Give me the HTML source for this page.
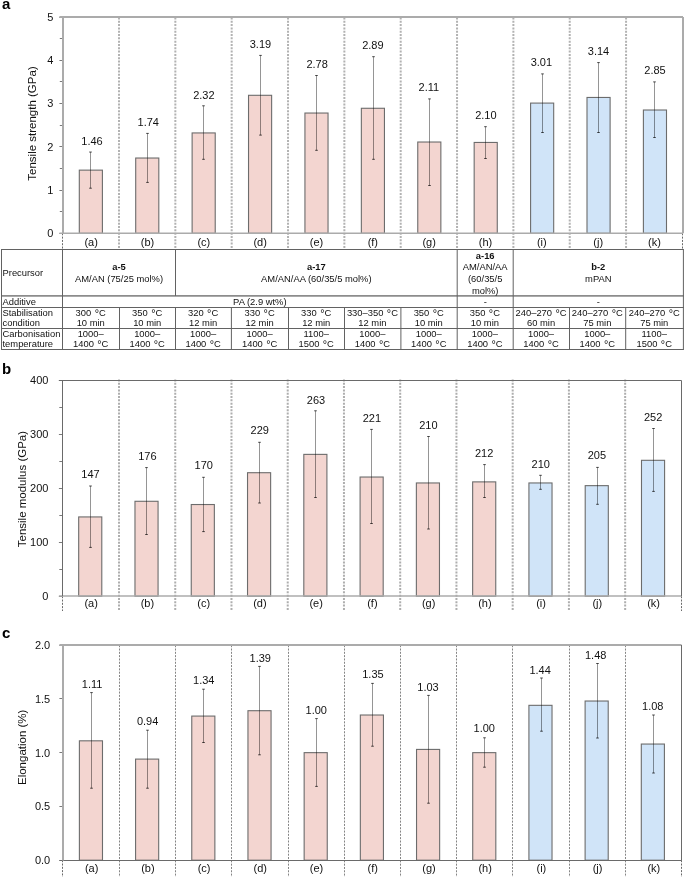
<!DOCTYPE html><html><head><meta charset="utf-8"><style>html,body{margin:0;padding:0;background:#fff;}svg{display:block;will-change:transform}</style></head><body>
<svg width="685" height="879" viewBox="0 0 685 879" font-family='"Liberation Sans", sans-serif'>
<rect x="0" y="0" width="685" height="879" fill="#fff"/>
<text x="1.9" y="9.1" font-size="15" font-weight="bold" fill="#000">a</text>
<line x1="119.00" y1="17.50" x2="119.00" y2="249.3" stroke="#B2B2B2" stroke-width="2.0" stroke-dasharray="2 1.31"/>
<line x1="175.34" y1="17.50" x2="175.34" y2="249.3" stroke="#B2B2B2" stroke-width="2.0" stroke-dasharray="2 1.31"/>
<line x1="231.68" y1="17.50" x2="231.68" y2="249.3" stroke="#B2B2B2" stroke-width="2.0" stroke-dasharray="2 1.31"/>
<line x1="288.02" y1="17.50" x2="288.02" y2="249.3" stroke="#B2B2B2" stroke-width="2.0" stroke-dasharray="2 1.31"/>
<line x1="344.36" y1="17.50" x2="344.36" y2="249.3" stroke="#B2B2B2" stroke-width="2.0" stroke-dasharray="2 1.31"/>
<line x1="400.70" y1="17.50" x2="400.70" y2="249.3" stroke="#B2B2B2" stroke-width="2.0" stroke-dasharray="2 1.31"/>
<line x1="457.04" y1="17.50" x2="457.04" y2="249.3" stroke="#B2B2B2" stroke-width="2.0" stroke-dasharray="2 1.31"/>
<line x1="513.38" y1="17.50" x2="513.38" y2="249.3" stroke="#B2B2B2" stroke-width="2.0" stroke-dasharray="2 1.31"/>
<line x1="569.72" y1="17.50" x2="569.72" y2="249.3" stroke="#B2B2B2" stroke-width="2.0" stroke-dasharray="2 1.31"/>
<line x1="626.06" y1="17.50" x2="626.06" y2="249.3" stroke="#B2B2B2" stroke-width="2.0" stroke-dasharray="2 1.31"/>
<line x1="62.50" y1="233.30" x2="62.50" y2="249.3" stroke="#6A6A6A" stroke-width="1" stroke-dasharray="2 1.31"/>
<line x1="682.50" y1="233.30" x2="682.50" y2="249.3" stroke="#6A6A6A" stroke-width="1" stroke-dasharray="2 1.31"/>
<rect x="79.30" y="170.14" width="23.1" height="63.16" fill="#F3D5D0" stroke="#6C6C6C" stroke-width="1.1"/>
<rect x="135.71" y="158.03" width="23.1" height="75.27" fill="#F3D5D0" stroke="#6C6C6C" stroke-width="1.1"/>
<rect x="192.12" y="132.94" width="23.1" height="100.36" fill="#F3D5D0" stroke="#6C6C6C" stroke-width="1.1"/>
<rect x="248.53" y="95.30" width="23.1" height="138.00" fill="#F3D5D0" stroke="#6C6C6C" stroke-width="1.1"/>
<rect x="304.94" y="113.04" width="23.1" height="120.26" fill="#F3D5D0" stroke="#6C6C6C" stroke-width="1.1"/>
<rect x="361.35" y="108.28" width="23.1" height="125.02" fill="#F3D5D0" stroke="#6C6C6C" stroke-width="1.1"/>
<rect x="417.76" y="142.02" width="23.1" height="91.28" fill="#F3D5D0" stroke="#6C6C6C" stroke-width="1.1"/>
<rect x="474.17" y="142.45" width="23.1" height="90.85" fill="#F3D5D0" stroke="#6C6C6C" stroke-width="1.1"/>
<rect x="530.59" y="103.09" width="23.1" height="130.21" fill="#D0E4F8" stroke="#6C6C6C" stroke-width="1.1"/>
<rect x="587.00" y="97.46" width="23.1" height="135.84" fill="#D0E4F8" stroke="#6C6C6C" stroke-width="1.1"/>
<rect x="643.40" y="110.01" width="23.1" height="123.29" fill="#D0E4F8" stroke="#6C6C6C" stroke-width="1.1"/>
<line x1="90.50" y1="152.05" x2="90.50" y2="188.2" stroke="#000" stroke-width="0.42"/>
<line x1="89.20" y1="152.05" x2="91.80" y2="152.05" stroke="#000" stroke-width="0.7"/>
<line x1="89.20" y1="188.2" x2="91.80" y2="188.2" stroke="#000" stroke-width="0.7"/>
<text x="92.05" y="144.60" font-size="11" text-anchor="middle" fill="#111">1.46</text>
<line x1="147.50" y1="133.4" x2="147.50" y2="182.4" stroke="#000" stroke-width="0.42"/>
<line x1="146.20" y1="133.4" x2="148.80" y2="133.4" stroke="#000" stroke-width="0.7"/>
<line x1="146.20" y1="182.4" x2="148.80" y2="182.4" stroke="#000" stroke-width="0.7"/>
<text x="148.25" y="126.20" font-size="11" text-anchor="middle" fill="#111">1.74</text>
<line x1="203.50" y1="105.8" x2="203.50" y2="159.3" stroke="#000" stroke-width="0.42"/>
<line x1="202.20" y1="105.8" x2="204.80" y2="105.8" stroke="#000" stroke-width="0.7"/>
<line x1="202.20" y1="159.3" x2="204.80" y2="159.3" stroke="#000" stroke-width="0.7"/>
<text x="203.85" y="98.80" font-size="11" text-anchor="middle" fill="#111">2.32</text>
<line x1="260.50" y1="55.4" x2="260.50" y2="135.1" stroke="#000" stroke-width="0.42"/>
<line x1="259.20" y1="55.4" x2="261.80" y2="55.4" stroke="#000" stroke-width="0.7"/>
<line x1="259.20" y1="135.1" x2="261.80" y2="135.1" stroke="#000" stroke-width="0.7"/>
<text x="260.45" y="47.90" font-size="11" text-anchor="middle" fill="#111">3.19</text>
<line x1="316.50" y1="75.5" x2="316.50" y2="150.3" stroke="#000" stroke-width="0.42"/>
<line x1="315.20" y1="75.5" x2="317.80" y2="75.5" stroke="#000" stroke-width="0.7"/>
<line x1="315.20" y1="150.3" x2="317.80" y2="150.3" stroke="#000" stroke-width="0.7"/>
<text x="317.10" y="67.60" font-size="11" text-anchor="middle" fill="#111">2.78</text>
<line x1="373.50" y1="56.7" x2="373.50" y2="159.3" stroke="#000" stroke-width="0.42"/>
<line x1="372.20" y1="56.7" x2="374.80" y2="56.7" stroke="#000" stroke-width="0.7"/>
<line x1="372.20" y1="159.3" x2="374.80" y2="159.3" stroke="#000" stroke-width="0.7"/>
<text x="372.90" y="48.80" font-size="11" text-anchor="middle" fill="#111">2.89</text>
<line x1="429.50" y1="98.9" x2="429.50" y2="185.5" stroke="#000" stroke-width="0.42"/>
<line x1="428.20" y1="98.9" x2="430.80" y2="98.9" stroke="#000" stroke-width="0.7"/>
<line x1="428.20" y1="185.5" x2="430.80" y2="185.5" stroke="#000" stroke-width="0.7"/>
<text x="428.90" y="90.80" font-size="11" text-anchor="middle" fill="#111">2.11</text>
<line x1="485.50" y1="126.7" x2="485.50" y2="158.5" stroke="#000" stroke-width="0.42"/>
<line x1="484.20" y1="126.7" x2="486.80" y2="126.7" stroke="#000" stroke-width="0.7"/>
<line x1="484.20" y1="158.5" x2="486.80" y2="158.5" stroke="#000" stroke-width="0.7"/>
<text x="485.90" y="118.80" font-size="11" text-anchor="middle" fill="#111">2.10</text>
<line x1="542.50" y1="73.9" x2="542.50" y2="132.5" stroke="#000" stroke-width="0.42"/>
<line x1="541.20" y1="73.9" x2="543.80" y2="73.9" stroke="#000" stroke-width="0.7"/>
<line x1="541.20" y1="132.5" x2="543.80" y2="132.5" stroke="#000" stroke-width="0.7"/>
<text x="541.35" y="65.60" font-size="11" text-anchor="middle" fill="#111">3.01</text>
<line x1="598.50" y1="62.6" x2="598.50" y2="132.5" stroke="#000" stroke-width="0.42"/>
<line x1="597.20" y1="62.6" x2="599.80" y2="62.6" stroke="#000" stroke-width="0.7"/>
<line x1="597.20" y1="132.5" x2="599.80" y2="132.5" stroke="#000" stroke-width="0.7"/>
<text x="598.55" y="55.20" font-size="11" text-anchor="middle" fill="#111">3.14</text>
<line x1="654.50" y1="81.9" x2="654.50" y2="137.5" stroke="#000" stroke-width="0.42"/>
<line x1="653.20" y1="81.9" x2="655.80" y2="81.9" stroke="#000" stroke-width="0.7"/>
<line x1="653.20" y1="137.5" x2="655.80" y2="137.5" stroke="#000" stroke-width="0.7"/>
<text x="655.00" y="74.00" font-size="11" text-anchor="middle" fill="#111">2.85</text>
<line x1="59.40" y1="233.50" x2="63.0" y2="233.50" stroke="#7A7A7A" stroke-width="1"/>
<text x="53.4" y="237.25" font-size="11" text-anchor="end" fill="#111">0</text>
<line x1="59.40" y1="190.50" x2="63.0" y2="190.50" stroke="#7A7A7A" stroke-width="1"/>
<text x="53.4" y="193.99" font-size="11" text-anchor="end" fill="#111">1</text>
<line x1="59.40" y1="146.50" x2="63.0" y2="146.50" stroke="#7A7A7A" stroke-width="1"/>
<text x="53.4" y="150.73" font-size="11" text-anchor="end" fill="#111">2</text>
<line x1="59.40" y1="103.50" x2="63.0" y2="103.50" stroke="#7A7A7A" stroke-width="1"/>
<text x="53.4" y="107.47" font-size="11" text-anchor="end" fill="#111">3</text>
<line x1="59.40" y1="60.50" x2="63.0" y2="60.50" stroke="#7A7A7A" stroke-width="1"/>
<text x="53.4" y="64.21" font-size="11" text-anchor="end" fill="#111">4</text>
<line x1="59.40" y1="17.50" x2="63.0" y2="17.50" stroke="#7A7A7A" stroke-width="1"/>
<text x="53.4" y="20.95" font-size="11" text-anchor="end" fill="#111">5</text>
<line x1="59.80" y1="211.50" x2="63.0" y2="211.50" stroke="#7A7A7A" stroke-width="1"/>
<line x1="59.80" y1="168.50" x2="63.0" y2="168.50" stroke="#7A7A7A" stroke-width="1"/>
<line x1="59.80" y1="125.50" x2="63.0" y2="125.50" stroke="#7A7A7A" stroke-width="1"/>
<line x1="59.80" y1="81.50" x2="63.0" y2="81.50" stroke="#7A7A7A" stroke-width="1"/>
<line x1="59.80" y1="38.50" x2="63.0" y2="38.50" stroke="#7A7A7A" stroke-width="1"/>
<line x1="59.40" y1="233.20" x2="683.00" y2="233.20" stroke="#ABABAB" stroke-width="1.5"/>
<line x1="59.40" y1="17.00" x2="683.00" y2="17.00" stroke="#ABABAB" stroke-width="2.0"/>
<line x1="683.00" y1="17.00" x2="683.00" y2="233.20" stroke="#ABABAB" stroke-width="2.0"/>
<line x1="63.00" y1="17.00" x2="63.00" y2="233.20" stroke="#ABABAB" stroke-width="2.0"/>
<text transform="translate(31.8,123.5) rotate(-90)" x="0" y="4.0" font-size="11.5" text-anchor="middle" fill="#111">Tensile strength (GPa)</text>
<text x="91.13" y="245.50" font-size="11" text-anchor="middle" fill="#111">(a)</text>
<text x="147.47" y="245.50" font-size="11" text-anchor="middle" fill="#111">(b)</text>
<text x="203.81" y="245.50" font-size="11" text-anchor="middle" fill="#111">(c)</text>
<text x="260.15" y="245.50" font-size="11" text-anchor="middle" fill="#111">(d)</text>
<text x="316.49" y="245.50" font-size="11" text-anchor="middle" fill="#111">(e)</text>
<text x="372.83" y="245.50" font-size="11" text-anchor="middle" fill="#111">(f)</text>
<text x="429.17" y="245.50" font-size="11" text-anchor="middle" fill="#111">(g)</text>
<text x="485.51" y="245.50" font-size="11" text-anchor="middle" fill="#111">(h)</text>
<text x="541.85" y="245.50" font-size="11" text-anchor="middle" fill="#111">(i)</text>
<text x="598.19" y="245.50" font-size="11" text-anchor="middle" fill="#111">(j)</text>
<text x="654.53" y="245.50" font-size="11" text-anchor="middle" fill="#111">(k)</text>
<text x="1.9" y="373.7" font-size="15" font-weight="bold" fill="#000">b</text>
<line x1="119.00" y1="379.50" x2="119.00" y2="611.0" stroke="#AEAEAE" stroke-width="2.0" stroke-dasharray="2 1.31"/>
<line x1="175.24" y1="379.50" x2="175.24" y2="611.0" stroke="#AEAEAE" stroke-width="2.0" stroke-dasharray="2 1.31"/>
<line x1="231.48" y1="379.50" x2="231.48" y2="611.0" stroke="#AEAEAE" stroke-width="2.0" stroke-dasharray="2 1.31"/>
<line x1="287.72" y1="379.50" x2="287.72" y2="611.0" stroke="#AEAEAE" stroke-width="2.0" stroke-dasharray="2 1.31"/>
<line x1="343.96" y1="379.50" x2="343.96" y2="611.0" stroke="#AEAEAE" stroke-width="2.0" stroke-dasharray="2 1.31"/>
<line x1="400.20" y1="379.50" x2="400.20" y2="611.0" stroke="#AEAEAE" stroke-width="2.0" stroke-dasharray="2 1.31"/>
<line x1="456.44" y1="379.50" x2="456.44" y2="611.0" stroke="#AEAEAE" stroke-width="2.0" stroke-dasharray="2 1.31"/>
<line x1="512.68" y1="379.50" x2="512.68" y2="611.0" stroke="#AEAEAE" stroke-width="2.0" stroke-dasharray="2 1.31"/>
<line x1="568.92" y1="379.50" x2="568.92" y2="611.0" stroke="#AEAEAE" stroke-width="2.0" stroke-dasharray="2 1.31"/>
<line x1="625.16" y1="379.50" x2="625.16" y2="611.0" stroke="#AEAEAE" stroke-width="2.0" stroke-dasharray="2 1.31"/>
<line x1="62.50" y1="596.20" x2="62.50" y2="611.0" stroke="#6A6A6A" stroke-width="1" stroke-dasharray="2 1.31"/>
<line x1="681.50" y1="596.20" x2="681.50" y2="611.0" stroke="#6A6A6A" stroke-width="1" stroke-dasharray="2 1.31"/>
<rect x="78.69" y="516.93" width="23.1" height="79.27" fill="#F3D5D0" stroke="#6C6C6C" stroke-width="1.1"/>
<rect x="134.97" y="501.29" width="23.1" height="94.91" fill="#F3D5D0" stroke="#6C6C6C" stroke-width="1.1"/>
<rect x="191.25" y="504.53" width="23.1" height="91.67" fill="#F3D5D0" stroke="#6C6C6C" stroke-width="1.1"/>
<rect x="247.53" y="472.71" width="23.1" height="123.49" fill="#F3D5D0" stroke="#6C6C6C" stroke-width="1.1"/>
<rect x="303.81" y="454.38" width="23.1" height="141.82" fill="#F3D5D0" stroke="#6C6C6C" stroke-width="1.1"/>
<rect x="360.09" y="477.03" width="23.1" height="119.17" fill="#F3D5D0" stroke="#6C6C6C" stroke-width="1.1"/>
<rect x="416.37" y="482.96" width="23.1" height="113.24" fill="#F3D5D0" stroke="#6C6C6C" stroke-width="1.1"/>
<rect x="472.65" y="481.88" width="23.1" height="114.32" fill="#F3D5D0" stroke="#6C6C6C" stroke-width="1.1"/>
<rect x="528.93" y="482.96" width="23.1" height="113.24" fill="#D0E4F8" stroke="#6C6C6C" stroke-width="1.1"/>
<rect x="585.21" y="485.65" width="23.1" height="110.55" fill="#D0E4F8" stroke="#6C6C6C" stroke-width="1.1"/>
<rect x="641.49" y="460.31" width="23.1" height="135.89" fill="#D0E4F8" stroke="#6C6C6C" stroke-width="1.1"/>
<line x1="90.50" y1="486.0" x2="90.50" y2="547.4" stroke="#000" stroke-width="0.42"/>
<line x1="89.20" y1="486.0" x2="91.80" y2="486.0" stroke="#000" stroke-width="0.7"/>
<line x1="89.20" y1="547.4" x2="91.80" y2="547.4" stroke="#000" stroke-width="0.7"/>
<text x="90.55" y="477.70" font-size="11" text-anchor="middle" fill="#111">147</text>
<line x1="146.50" y1="467.6" x2="146.50" y2="534.5" stroke="#000" stroke-width="0.42"/>
<line x1="145.20" y1="467.6" x2="147.80" y2="467.6" stroke="#000" stroke-width="0.7"/>
<line x1="145.20" y1="534.5" x2="147.80" y2="534.5" stroke="#000" stroke-width="0.7"/>
<text x="147.40" y="460.40" font-size="11" text-anchor="middle" fill="#111">176</text>
<line x1="203.50" y1="477.3" x2="203.50" y2="531.6" stroke="#000" stroke-width="0.42"/>
<line x1="202.20" y1="477.3" x2="204.80" y2="477.3" stroke="#000" stroke-width="0.7"/>
<line x1="202.20" y1="531.6" x2="204.80" y2="531.6" stroke="#000" stroke-width="0.7"/>
<text x="203.75" y="469.00" font-size="11" text-anchor="middle" fill="#111">170</text>
<line x1="259.50" y1="442.3" x2="259.50" y2="503" stroke="#000" stroke-width="0.42"/>
<line x1="258.20" y1="442.3" x2="260.80" y2="442.3" stroke="#000" stroke-width="0.7"/>
<line x1="258.20" y1="503" x2="260.80" y2="503" stroke="#000" stroke-width="0.7"/>
<text x="259.75" y="434.40" font-size="11" text-anchor="middle" fill="#111">229</text>
<line x1="315.50" y1="410.8" x2="315.50" y2="497.5" stroke="#000" stroke-width="0.42"/>
<line x1="314.20" y1="410.8" x2="316.80" y2="410.8" stroke="#000" stroke-width="0.7"/>
<line x1="314.20" y1="497.5" x2="316.80" y2="497.5" stroke="#000" stroke-width="0.7"/>
<text x="316.05" y="403.80" font-size="11" text-anchor="middle" fill="#111">263</text>
<line x1="371.50" y1="429.4" x2="371.50" y2="523.5" stroke="#000" stroke-width="0.42"/>
<line x1="370.20" y1="429.4" x2="372.80" y2="429.4" stroke="#000" stroke-width="0.7"/>
<line x1="370.20" y1="523.5" x2="372.80" y2="523.5" stroke="#000" stroke-width="0.7"/>
<text x="371.85" y="422.20" font-size="11" text-anchor="middle" fill="#111">221</text>
<line x1="428.50" y1="436.5" x2="428.50" y2="529" stroke="#000" stroke-width="0.42"/>
<line x1="427.20" y1="436.5" x2="429.80" y2="436.5" stroke="#000" stroke-width="0.7"/>
<line x1="427.20" y1="529" x2="429.80" y2="529" stroke="#000" stroke-width="0.7"/>
<text x="428.35" y="428.60" font-size="11" text-anchor="middle" fill="#111">210</text>
<line x1="484.50" y1="464.6" x2="484.50" y2="497.5" stroke="#000" stroke-width="0.42"/>
<line x1="483.20" y1="464.6" x2="485.80" y2="464.6" stroke="#000" stroke-width="0.7"/>
<line x1="483.20" y1="497.5" x2="485.80" y2="497.5" stroke="#000" stroke-width="0.7"/>
<text x="484.15" y="457.40" font-size="11" text-anchor="middle" fill="#111">212</text>
<line x1="540.50" y1="475.3" x2="540.50" y2="489.3" stroke="#000" stroke-width="0.42"/>
<line x1="539.20" y1="475.3" x2="541.80" y2="475.3" stroke="#000" stroke-width="0.7"/>
<line x1="539.20" y1="489.3" x2="541.80" y2="489.3" stroke="#000" stroke-width="0.7"/>
<text x="540.70" y="467.70" font-size="11" text-anchor="middle" fill="#111">210</text>
<line x1="597.50" y1="467.4" x2="597.50" y2="504.3" stroke="#000" stroke-width="0.42"/>
<line x1="596.20" y1="467.4" x2="598.80" y2="467.4" stroke="#000" stroke-width="0.7"/>
<line x1="596.20" y1="504.3" x2="598.80" y2="504.3" stroke="#000" stroke-width="0.7"/>
<text x="596.90" y="459.20" font-size="11" text-anchor="middle" fill="#111">205</text>
<line x1="653.50" y1="428.5" x2="653.50" y2="491.4" stroke="#000" stroke-width="0.42"/>
<line x1="652.20" y1="428.5" x2="654.80" y2="428.5" stroke="#000" stroke-width="0.7"/>
<line x1="652.20" y1="491.4" x2="654.80" y2="491.4" stroke="#000" stroke-width="0.7"/>
<text x="653.10" y="420.80" font-size="11" text-anchor="middle" fill="#111">252</text>
<line x1="58.90" y1="596.50" x2="62.5" y2="596.50" stroke="#7A7A7A" stroke-width="1"/>
<text x="48.4" y="600.15" font-size="11" text-anchor="end" fill="#111">0</text>
<line x1="58.90" y1="542.50" x2="62.5" y2="542.50" stroke="#7A7A7A" stroke-width="1"/>
<text x="48.4" y="546.23" font-size="11" text-anchor="end" fill="#111">100</text>
<line x1="58.90" y1="488.50" x2="62.5" y2="488.50" stroke="#7A7A7A" stroke-width="1"/>
<text x="48.4" y="492.30" font-size="11" text-anchor="end" fill="#111">200</text>
<line x1="58.90" y1="434.50" x2="62.5" y2="434.50" stroke="#7A7A7A" stroke-width="1"/>
<text x="48.4" y="438.38" font-size="11" text-anchor="end" fill="#111">300</text>
<line x1="58.90" y1="380.50" x2="62.5" y2="380.50" stroke="#7A7A7A" stroke-width="1"/>
<text x="48.4" y="384.45" font-size="11" text-anchor="end" fill="#111">400</text>
<line x1="59.30" y1="569.50" x2="62.5" y2="569.50" stroke="#7A7A7A" stroke-width="1"/>
<line x1="59.30" y1="515.50" x2="62.5" y2="515.50" stroke="#7A7A7A" stroke-width="1"/>
<line x1="59.30" y1="461.50" x2="62.5" y2="461.50" stroke="#7A7A7A" stroke-width="1"/>
<line x1="59.30" y1="407.50" x2="62.5" y2="407.50" stroke="#7A7A7A" stroke-width="1"/>
<line x1="58.90" y1="596.00" x2="681.50" y2="596.00" stroke="#ABABAB" stroke-width="1.5"/>
<line x1="58.90" y1="380.50" x2="681.50" y2="380.50" stroke="#6A6A6A" stroke-width="1.0"/>
<line x1="681.50" y1="380.50" x2="681.50" y2="596.00" stroke="#6A6A6A" stroke-width="1.0"/>
<line x1="62.50" y1="380.50" x2="62.50" y2="596.00" stroke="#6A6A6A" stroke-width="1.0"/>
<text transform="translate(22.3,489.1) rotate(-90)" x="0" y="4.0" font-size="11.5" text-anchor="middle" fill="#111">Tensile modulus (GPa)</text>
<text x="91.18" y="607.10" font-size="11" text-anchor="middle" fill="#111">(a)</text>
<text x="147.42" y="607.10" font-size="11" text-anchor="middle" fill="#111">(b)</text>
<text x="203.66" y="607.10" font-size="11" text-anchor="middle" fill="#111">(c)</text>
<text x="259.90" y="607.10" font-size="11" text-anchor="middle" fill="#111">(d)</text>
<text x="316.14" y="607.10" font-size="11" text-anchor="middle" fill="#111">(e)</text>
<text x="372.38" y="607.10" font-size="11" text-anchor="middle" fill="#111">(f)</text>
<text x="428.62" y="607.10" font-size="11" text-anchor="middle" fill="#111">(g)</text>
<text x="484.86" y="607.10" font-size="11" text-anchor="middle" fill="#111">(h)</text>
<text x="541.10" y="607.10" font-size="11" text-anchor="middle" fill="#111">(i)</text>
<text x="597.34" y="607.10" font-size="11" text-anchor="middle" fill="#111">(j)</text>
<text x="653.58" y="607.10" font-size="11" text-anchor="middle" fill="#111">(k)</text>
<text x="1.9" y="638.1" font-size="15" font-weight="bold" fill="#000">c</text>
<line x1="119.50" y1="645.20" x2="119.50" y2="877.0" stroke="#858585" stroke-width="1.0" stroke-dasharray="2 1.31"/>
<line x1="175.50" y1="645.20" x2="175.50" y2="877.0" stroke="#858585" stroke-width="1.0" stroke-dasharray="2 1.31"/>
<line x1="231.50" y1="645.20" x2="231.50" y2="877.0" stroke="#858585" stroke-width="1.0" stroke-dasharray="2 1.31"/>
<line x1="288.50" y1="645.20" x2="288.50" y2="877.0" stroke="#858585" stroke-width="1.0" stroke-dasharray="2 1.31"/>
<line x1="344.50" y1="645.20" x2="344.50" y2="877.0" stroke="#858585" stroke-width="1.0" stroke-dasharray="2 1.31"/>
<line x1="400.50" y1="645.20" x2="400.50" y2="877.0" stroke="#858585" stroke-width="1.0" stroke-dasharray="2 1.31"/>
<line x1="456.50" y1="645.20" x2="456.50" y2="877.0" stroke="#858585" stroke-width="1.0" stroke-dasharray="2 1.31"/>
<line x1="512.50" y1="645.20" x2="512.50" y2="877.0" stroke="#858585" stroke-width="1.0" stroke-dasharray="2 1.31"/>
<line x1="569.50" y1="645.20" x2="569.50" y2="877.0" stroke="#858585" stroke-width="1.0" stroke-dasharray="2 1.31"/>
<line x1="625.50" y1="645.20" x2="625.50" y2="877.0" stroke="#858585" stroke-width="1.0" stroke-dasharray="2 1.31"/>
<line x1="62.50" y1="860.20" x2="62.50" y2="877.0" stroke="#6A6A6A" stroke-width="1" stroke-dasharray="2 1.31"/>
<line x1="681.50" y1="860.20" x2="681.50" y2="877.0" stroke="#6A6A6A" stroke-width="1" stroke-dasharray="2 1.31"/>
<rect x="79.39" y="740.82" width="23.1" height="119.38" fill="#F3D5D0" stroke="#6C6C6C" stroke-width="1.1"/>
<rect x="135.58" y="759.10" width="23.1" height="101.10" fill="#F3D5D0" stroke="#6C6C6C" stroke-width="1.1"/>
<rect x="191.77" y="716.08" width="23.1" height="144.12" fill="#F3D5D0" stroke="#6C6C6C" stroke-width="1.1"/>
<rect x="247.96" y="710.71" width="23.1" height="149.49" fill="#F3D5D0" stroke="#6C6C6C" stroke-width="1.1"/>
<rect x="304.15" y="752.65" width="23.1" height="107.55" fill="#F3D5D0" stroke="#6C6C6C" stroke-width="1.1"/>
<rect x="360.34" y="715.01" width="23.1" height="145.19" fill="#F3D5D0" stroke="#6C6C6C" stroke-width="1.1"/>
<rect x="416.54" y="749.42" width="23.1" height="110.78" fill="#F3D5D0" stroke="#6C6C6C" stroke-width="1.1"/>
<rect x="472.72" y="752.65" width="23.1" height="107.55" fill="#F3D5D0" stroke="#6C6C6C" stroke-width="1.1"/>
<rect x="528.92" y="705.33" width="23.1" height="154.87" fill="#D0E4F8" stroke="#6C6C6C" stroke-width="1.1"/>
<rect x="585.11" y="701.03" width="23.1" height="159.17" fill="#D0E4F8" stroke="#6C6C6C" stroke-width="1.1"/>
<rect x="641.30" y="744.05" width="23.1" height="116.15" fill="#D0E4F8" stroke="#6C6C6C" stroke-width="1.1"/>
<line x1="91.50" y1="692.6" x2="91.50" y2="788.2" stroke="#000" stroke-width="0.42"/>
<line x1="90.20" y1="692.6" x2="92.80" y2="692.6" stroke="#000" stroke-width="0.7"/>
<line x1="90.20" y1="788.2" x2="92.80" y2="788.2" stroke="#000" stroke-width="0.7"/>
<text x="92.10" y="687.50" font-size="11" text-anchor="middle" fill="#111">1.11</text>
<line x1="147.50" y1="730.2" x2="147.50" y2="788.2" stroke="#000" stroke-width="0.42"/>
<line x1="146.20" y1="730.2" x2="148.80" y2="730.2" stroke="#000" stroke-width="0.7"/>
<line x1="146.20" y1="788.2" x2="148.80" y2="788.2" stroke="#000" stroke-width="0.7"/>
<text x="147.60" y="724.90" font-size="11" text-anchor="middle" fill="#111">0.94</text>
<line x1="203.50" y1="689.2" x2="203.50" y2="742.5" stroke="#000" stroke-width="0.42"/>
<line x1="202.20" y1="689.2" x2="204.80" y2="689.2" stroke="#000" stroke-width="0.7"/>
<line x1="202.20" y1="742.5" x2="204.80" y2="742.5" stroke="#000" stroke-width="0.7"/>
<text x="203.75" y="684.40" font-size="11" text-anchor="middle" fill="#111">1.34</text>
<line x1="259.50" y1="666.4" x2="259.50" y2="754.8" stroke="#000" stroke-width="0.42"/>
<line x1="258.20" y1="666.4" x2="260.80" y2="666.4" stroke="#000" stroke-width="0.7"/>
<line x1="258.20" y1="754.8" x2="260.80" y2="754.8" stroke="#000" stroke-width="0.7"/>
<text x="260.25" y="661.80" font-size="11" text-anchor="middle" fill="#111">1.39</text>
<line x1="316.50" y1="718.6" x2="316.50" y2="786.4" stroke="#000" stroke-width="0.42"/>
<line x1="315.20" y1="718.6" x2="317.80" y2="718.6" stroke="#000" stroke-width="0.7"/>
<line x1="315.20" y1="786.4" x2="317.80" y2="786.4" stroke="#000" stroke-width="0.7"/>
<text x="316.25" y="713.60" font-size="11" text-anchor="middle" fill="#111">1.00</text>
<line x1="372.50" y1="683.4" x2="372.50" y2="746.2" stroke="#000" stroke-width="0.42"/>
<line x1="371.20" y1="683.4" x2="373.80" y2="683.4" stroke="#000" stroke-width="0.7"/>
<line x1="371.20" y1="746.2" x2="373.80" y2="746.2" stroke="#000" stroke-width="0.7"/>
<text x="372.95" y="678.10" font-size="11" text-anchor="middle" fill="#111">1.35</text>
<line x1="428.50" y1="695.4" x2="428.50" y2="803.2" stroke="#000" stroke-width="0.42"/>
<line x1="427.20" y1="695.4" x2="429.80" y2="695.4" stroke="#000" stroke-width="0.7"/>
<line x1="427.20" y1="803.2" x2="429.80" y2="803.2" stroke="#000" stroke-width="0.7"/>
<text x="428.00" y="690.80" font-size="11" text-anchor="middle" fill="#111">1.03</text>
<line x1="484.50" y1="737.8" x2="484.50" y2="767.2" stroke="#000" stroke-width="0.42"/>
<line x1="483.20" y1="737.8" x2="485.80" y2="737.8" stroke="#000" stroke-width="0.7"/>
<line x1="483.20" y1="767.2" x2="485.80" y2="767.2" stroke="#000" stroke-width="0.7"/>
<text x="484.25" y="732.40" font-size="11" text-anchor="middle" fill="#111">1.00</text>
<line x1="541.50" y1="678.0" x2="541.50" y2="731.2" stroke="#000" stroke-width="0.42"/>
<line x1="540.20" y1="678.0" x2="542.80" y2="678.0" stroke="#000" stroke-width="0.7"/>
<line x1="540.20" y1="731.2" x2="542.80" y2="731.2" stroke="#000" stroke-width="0.7"/>
<text x="540.10" y="673.90" font-size="11" text-anchor="middle" fill="#111">1.44</text>
<line x1="597.50" y1="663.5" x2="597.50" y2="738" stroke="#000" stroke-width="0.42"/>
<line x1="596.20" y1="663.5" x2="598.80" y2="663.5" stroke="#000" stroke-width="0.7"/>
<line x1="596.20" y1="738" x2="598.80" y2="738" stroke="#000" stroke-width="0.7"/>
<text x="595.70" y="658.50" font-size="11" text-anchor="middle" fill="#111">1.48</text>
<line x1="653.50" y1="715.0" x2="653.50" y2="773" stroke="#000" stroke-width="0.42"/>
<line x1="652.20" y1="715.0" x2="654.80" y2="715.0" stroke="#000" stroke-width="0.7"/>
<line x1="652.20" y1="773" x2="654.80" y2="773" stroke="#000" stroke-width="0.7"/>
<text x="652.80" y="709.70" font-size="11" text-anchor="middle" fill="#111">1.08</text>
<line x1="59.40" y1="860.50" x2="63.0" y2="860.50" stroke="#7A7A7A" stroke-width="1"/>
<text x="50.2" y="864.15" font-size="11" text-anchor="end" fill="#111">0.0</text>
<line x1="59.40" y1="806.50" x2="63.0" y2="806.50" stroke="#7A7A7A" stroke-width="1"/>
<text x="50.2" y="810.38" font-size="11" text-anchor="end" fill="#111">0.5</text>
<line x1="59.40" y1="752.50" x2="63.0" y2="752.50" stroke="#7A7A7A" stroke-width="1"/>
<text x="50.2" y="756.60" font-size="11" text-anchor="end" fill="#111">1.0</text>
<line x1="59.40" y1="698.50" x2="63.0" y2="698.50" stroke="#7A7A7A" stroke-width="1"/>
<text x="50.2" y="702.83" font-size="11" text-anchor="end" fill="#111">1.5</text>
<line x1="59.40" y1="645.50" x2="63.0" y2="645.50" stroke="#7A7A7A" stroke-width="1"/>
<text x="50.2" y="649.05" font-size="11" text-anchor="end" fill="#111">2.0</text>
<line x1="59.40" y1="860.50" x2="681.50" y2="860.50" stroke="#6A6A6A" stroke-width="1.0"/>
<line x1="59.40" y1="645.00" x2="681.50" y2="645.00" stroke="#ABABAB" stroke-width="2.0"/>
<line x1="681.50" y1="645.00" x2="681.50" y2="860.50" stroke="#6A6A6A" stroke-width="1.0"/>
<line x1="63.00" y1="645.00" x2="63.00" y2="860.50" stroke="#ABABAB" stroke-width="2.0"/>
<text transform="translate(21.6,747.3) rotate(-90)" x="0" y="4.0" font-size="11.5" text-anchor="middle" fill="#111">Elongation (%)</text>
<text x="91.69" y="872.00" font-size="11" text-anchor="middle" fill="#111">(a)</text>
<text x="147.91" y="872.00" font-size="11" text-anchor="middle" fill="#111">(b)</text>
<text x="204.12" y="872.00" font-size="11" text-anchor="middle" fill="#111">(c)</text>
<text x="260.33" y="872.00" font-size="11" text-anchor="middle" fill="#111">(d)</text>
<text x="316.54" y="872.00" font-size="11" text-anchor="middle" fill="#111">(e)</text>
<text x="372.75" y="872.00" font-size="11" text-anchor="middle" fill="#111">(f)</text>
<text x="428.96" y="872.00" font-size="11" text-anchor="middle" fill="#111">(g)</text>
<text x="485.17" y="872.00" font-size="11" text-anchor="middle" fill="#111">(h)</text>
<text x="541.38" y="872.00" font-size="11" text-anchor="middle" fill="#111">(i)</text>
<text x="597.58" y="872.00" font-size="11" text-anchor="middle" fill="#111">(j)</text>
<text x="653.79" y="872.00" font-size="11" text-anchor="middle" fill="#111">(k)</text>
<line x1="1.00" y1="249.50" x2="683.90" y2="249.50" stroke="#626262" stroke-width="1.0"/>
<line x1="1.00" y1="295.90" x2="683.90" y2="295.90" stroke="#8C8C8C" stroke-width="1.6"/>
<line x1="1.00" y1="307.50" x2="683.90" y2="307.50" stroke="#626262" stroke-width="1.0"/>
<line x1="1.00" y1="328.50" x2="683.90" y2="328.50" stroke="#626262" stroke-width="1.0"/>
<line x1="1.00" y1="349.50" x2="683.90" y2="349.50" stroke="#626262" stroke-width="1.0"/>
<line x1="1.50" y1="249.50" x2="1.50" y2="349.50" stroke="#626262" stroke-width="1.0"/>
<line x1="683.40" y1="249.50" x2="683.40" y2="349.50" stroke="#626262" stroke-width="1.0"/>
<line x1="62.50" y1="249.50" x2="62.50" y2="349.50" stroke="#626262" stroke-width="1.0"/>
<line x1="175.50" y1="249.50" x2="175.50" y2="295.90" stroke="#626262" stroke-width="1.0"/>
<line x1="457.20" y1="249.50" x2="457.20" y2="295.90" stroke="#626262" stroke-width="1.0"/>
<line x1="513.20" y1="249.50" x2="513.20" y2="295.90" stroke="#626262" stroke-width="1.0"/>
<line x1="457.20" y1="295.90" x2="457.20" y2="307.50" stroke="#626262" stroke-width="1.0"/>
<line x1="513.20" y1="295.90" x2="513.20" y2="307.50" stroke="#626262" stroke-width="1.0"/>
<line x1="119.50" y1="307.50" x2="119.50" y2="349.50" stroke="#626262" stroke-width="1.0"/>
<line x1="175.50" y1="307.50" x2="175.50" y2="349.50" stroke="#626262" stroke-width="1.0"/>
<line x1="231.40" y1="307.50" x2="231.40" y2="349.50" stroke="#626262" stroke-width="1.0"/>
<line x1="288.50" y1="307.50" x2="288.50" y2="349.50" stroke="#626262" stroke-width="1.0"/>
<line x1="344.50" y1="307.50" x2="344.50" y2="349.50" stroke="#626262" stroke-width="1.0"/>
<line x1="400.90" y1="307.50" x2="400.90" y2="349.50" stroke="#626262" stroke-width="1.0"/>
<line x1="457.20" y1="307.50" x2="457.20" y2="349.50" stroke="#626262" stroke-width="1.0"/>
<line x1="513.20" y1="307.50" x2="513.20" y2="349.50" stroke="#626262" stroke-width="1.0"/>
<line x1="569.50" y1="307.50" x2="569.50" y2="349.50" stroke="#626262" stroke-width="1.0"/>
<line x1="625.70" y1="307.50" x2="625.70" y2="349.50" stroke="#626262" stroke-width="1.0"/>
<text x="2.50" y="276.00" font-size="9.4" text-anchor="start" fill="#111">Precursor</text>
<text x="2.50" y="304.80" font-size="9.4" text-anchor="start" fill="#111">Additive</text>
<text x="2.50" y="315.70" font-size="9.4" text-anchor="start" fill="#111">Stabilisation</text>
<text x="2.50" y="326.40" font-size="9.4" text-anchor="start" fill="#111">condition</text>
<text x="2.50" y="337.00" font-size="9.4" text-anchor="start" fill="#111">Carbonisation</text>
<text x="2.50" y="346.90" font-size="9.4" text-anchor="start" fill="#111">temperature</text>
<text x="119.00" y="270.10" font-size="9.4" text-anchor="middle" font-weight="bold" fill="#111">a-5</text>
<text x="119.00" y="281.85" font-size="9.4" text-anchor="middle" fill="#111">AM/AN (75/25 mol%)</text>
<text x="316.35" y="270.10" font-size="9.4" text-anchor="middle" font-weight="bold" fill="#111">a-17</text>
<text x="316.35" y="281.85" font-size="9.4" text-anchor="middle" fill="#111">AM/AN/AA (60/35/5 mol%)</text>
<text x="485.20" y="258.50" font-size="9.4" text-anchor="middle" font-weight="bold" fill="#111">a-16</text>
<text x="485.20" y="270.20" font-size="9.4" text-anchor="middle" fill="#111">AM/AN/AA</text>
<text x="485.20" y="281.90" font-size="9.4" text-anchor="middle" fill="#111">(60/35/5</text>
<text x="485.20" y="293.50" font-size="9.4" text-anchor="middle" fill="#111">mol%)</text>
<text x="598.30" y="270.10" font-size="9.4" text-anchor="middle" font-weight="bold" fill="#111">b-2</text>
<text x="598.30" y="281.85" font-size="9.4" text-anchor="middle" fill="#111">mPAN</text>
<text x="259.85" y="304.80" font-size="9.4" text-anchor="middle" fill="#111">PA (2.9 wt%)</text>
<text x="485.20" y="304.80" font-size="9.4" text-anchor="middle" fill="#111">-</text>
<text x="598.30" y="304.80" font-size="9.4" text-anchor="middle" fill="#111">-</text>
<text x="90.70" y="315.70" font-size="9.4" text-anchor="middle" fill="#111">300 <tspan font-size="10.8" dx="0.8" dy="0.85">°</tspan><tspan dy="-0.85">C</tspan></text>
<text x="90.70" y="326.40" font-size="9.4" text-anchor="middle" fill="#111">10 min</text>
<text x="90.70" y="337.00" font-size="9.4" text-anchor="middle" fill="#111">1000–</text>
<text x="90.70" y="346.90" font-size="9.4" text-anchor="middle" fill="#111">1400 <tspan font-size="10.8" dx="0.8" dy="0.85">°</tspan><tspan dy="-0.85">C</tspan></text>
<text x="147.20" y="315.70" font-size="9.4" text-anchor="middle" fill="#111">350 <tspan font-size="10.8" dx="0.8" dy="0.85">°</tspan><tspan dy="-0.85">C</tspan></text>
<text x="147.20" y="326.40" font-size="9.4" text-anchor="middle" fill="#111">10 min</text>
<text x="147.20" y="337.00" font-size="9.4" text-anchor="middle" fill="#111">1000–</text>
<text x="147.20" y="346.90" font-size="9.4" text-anchor="middle" fill="#111">1400 <tspan font-size="10.8" dx="0.8" dy="0.85">°</tspan><tspan dy="-0.85">C</tspan></text>
<text x="203.15" y="315.70" font-size="9.4" text-anchor="middle" fill="#111">320 <tspan font-size="10.8" dx="0.8" dy="0.85">°</tspan><tspan dy="-0.85">C</tspan></text>
<text x="203.15" y="326.40" font-size="9.4" text-anchor="middle" fill="#111">12 min</text>
<text x="203.15" y="337.00" font-size="9.4" text-anchor="middle" fill="#111">1000–</text>
<text x="203.15" y="346.90" font-size="9.4" text-anchor="middle" fill="#111">1400 <tspan font-size="10.8" dx="0.8" dy="0.85">°</tspan><tspan dy="-0.85">C</tspan></text>
<text x="259.65" y="315.70" font-size="9.4" text-anchor="middle" fill="#111">330 <tspan font-size="10.8" dx="0.8" dy="0.85">°</tspan><tspan dy="-0.85">C</tspan></text>
<text x="259.65" y="326.40" font-size="9.4" text-anchor="middle" fill="#111">12 min</text>
<text x="259.65" y="337.00" font-size="9.4" text-anchor="middle" fill="#111">1000–</text>
<text x="259.65" y="346.90" font-size="9.4" text-anchor="middle" fill="#111">1400 <tspan font-size="10.8" dx="0.8" dy="0.85">°</tspan><tspan dy="-0.85">C</tspan></text>
<text x="316.20" y="315.70" font-size="9.4" text-anchor="middle" fill="#111">330 <tspan font-size="10.8" dx="0.8" dy="0.85">°</tspan><tspan dy="-0.85">C</tspan></text>
<text x="316.20" y="326.40" font-size="9.4" text-anchor="middle" fill="#111">12 min</text>
<text x="316.20" y="337.00" font-size="9.4" text-anchor="middle" fill="#111">1100–</text>
<text x="316.20" y="346.90" font-size="9.4" text-anchor="middle" fill="#111">1500 <tspan font-size="10.8" dx="0.8" dy="0.85">°</tspan><tspan dy="-0.85">C</tspan></text>
<text x="372.40" y="315.70" font-size="9.4" text-anchor="middle" fill="#111">330–350 <tspan font-size="10.8" dx="0.8" dy="0.85">°</tspan><tspan dy="-0.85">C</tspan></text>
<text x="372.40" y="326.40" font-size="9.4" text-anchor="middle" fill="#111">12 min</text>
<text x="372.40" y="337.00" font-size="9.4" text-anchor="middle" fill="#111">1000–</text>
<text x="372.40" y="346.90" font-size="9.4" text-anchor="middle" fill="#111">1400 <tspan font-size="10.8" dx="0.8" dy="0.85">°</tspan><tspan dy="-0.85">C</tspan></text>
<text x="428.75" y="315.70" font-size="9.4" text-anchor="middle" fill="#111">350 <tspan font-size="10.8" dx="0.8" dy="0.85">°</tspan><tspan dy="-0.85">C</tspan></text>
<text x="428.75" y="326.40" font-size="9.4" text-anchor="middle" fill="#111">10 min</text>
<text x="428.75" y="337.00" font-size="9.4" text-anchor="middle" fill="#111">1000–</text>
<text x="428.75" y="346.90" font-size="9.4" text-anchor="middle" fill="#111">1400 <tspan font-size="10.8" dx="0.8" dy="0.85">°</tspan><tspan dy="-0.85">C</tspan></text>
<text x="484.90" y="315.70" font-size="9.4" text-anchor="middle" fill="#111">350 <tspan font-size="10.8" dx="0.8" dy="0.85">°</tspan><tspan dy="-0.85">C</tspan></text>
<text x="484.90" y="326.40" font-size="9.4" text-anchor="middle" fill="#111">10 min</text>
<text x="484.90" y="337.00" font-size="9.4" text-anchor="middle" fill="#111">1000–</text>
<text x="484.90" y="346.90" font-size="9.4" text-anchor="middle" fill="#111">1400 <tspan font-size="10.8" dx="0.8" dy="0.85">°</tspan><tspan dy="-0.85">C</tspan></text>
<text x="541.05" y="315.70" font-size="9.4" text-anchor="middle" fill="#111">240–270 <tspan font-size="10.8" dx="0.8" dy="0.85">°</tspan><tspan dy="-0.85">C</tspan></text>
<text x="541.05" y="326.40" font-size="9.4" text-anchor="middle" fill="#111">60 min</text>
<text x="541.05" y="337.00" font-size="9.4" text-anchor="middle" fill="#111">1000–</text>
<text x="541.05" y="346.90" font-size="9.4" text-anchor="middle" fill="#111">1400 <tspan font-size="10.8" dx="0.8" dy="0.85">°</tspan><tspan dy="-0.85">C</tspan></text>
<text x="597.30" y="315.70" font-size="9.4" text-anchor="middle" fill="#111">240–270 <tspan font-size="10.8" dx="0.8" dy="0.85">°</tspan><tspan dy="-0.85">C</tspan></text>
<text x="597.30" y="326.40" font-size="9.4" text-anchor="middle" fill="#111">75 min</text>
<text x="597.30" y="337.00" font-size="9.4" text-anchor="middle" fill="#111">1000–</text>
<text x="597.30" y="346.90" font-size="9.4" text-anchor="middle" fill="#111">1400 <tspan font-size="10.8" dx="0.8" dy="0.85">°</tspan><tspan dy="-0.85">C</tspan></text>
<text x="654.25" y="315.70" font-size="9.4" text-anchor="middle" fill="#111">240–270 <tspan font-size="10.8" dx="0.8" dy="0.85">°</tspan><tspan dy="-0.85">C</tspan></text>
<text x="654.25" y="326.40" font-size="9.4" text-anchor="middle" fill="#111">75 min</text>
<text x="654.25" y="337.00" font-size="9.4" text-anchor="middle" fill="#111">1100–</text>
<text x="654.25" y="346.90" font-size="9.4" text-anchor="middle" fill="#111">1500 <tspan font-size="10.8" dx="0.8" dy="0.85">°</tspan><tspan dy="-0.85">C</tspan></text>
</svg></body></html>
